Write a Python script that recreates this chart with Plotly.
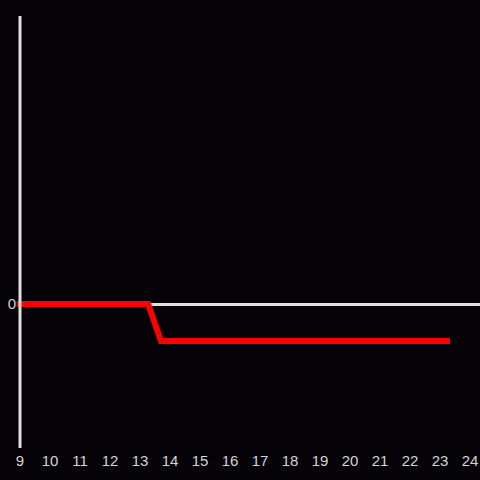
import plotly.graph_objects as go

hours = [9, 13.27, 13.7, 23.23]
values = [0, 0, -1, -1]
x_ticks = list(range(9, 25))
y_ticks = [0]

fig = go.Figure()
fig.add_trace(go.Scatter(x=hours, y=values, mode="lines",
                         line=dict(color="#ff0000", width=6), hoverinfo="skip"))

# vertical axis line drawn at the first x tick, above the data
fig.add_shape(type="line", xref="x", yref="paper", x0=x_ticks[0], x1=x_ticks[0],
              y0=0, y1=1, line=dict(color="#e0e0e0", width=3), layer="above")

fig.update_layout(
    width=480, height=480,
    margin=dict(l=17, r=0, t=16, b=32),
    paper_bgcolor="#050307", plot_bgcolor="#050307",
    showlegend=False,
    font=dict(family="Liberation Sans, Arial, sans-serif", size=15, color="#d4d4d4"),
    xaxis=dict(range=[8.9, 24.333], tickvals=x_ticks, ticktext=[str(t) for t in x_ticks],
               showgrid=False, zeroline=False, showline=False, ticks="",
               ticklabelstandoff=2),
    yaxis=dict(range=[-3.892, 7.784], tickvals=y_ticks, ticktext=["0"],
               showgrid=False, zeroline=True, zerolinecolor="#e0e0e0", zerolinewidth=3,
               showline=False, ticks="", ticklabelstandoff=0),
)
post = (
    "document.body.style.margin='0';"
    "document.body.style.background='#050307';"
    "var s=document.createElement('style');"
    "s.textContent='.scatterlayer path.js-line{stroke-linecap:square !important;stroke-linejoin:miter !important;}';"
    "document.head.appendChild(s);"
)
fig.write_html("out.html", config={"displayModeBar": False}, post_script=post)
